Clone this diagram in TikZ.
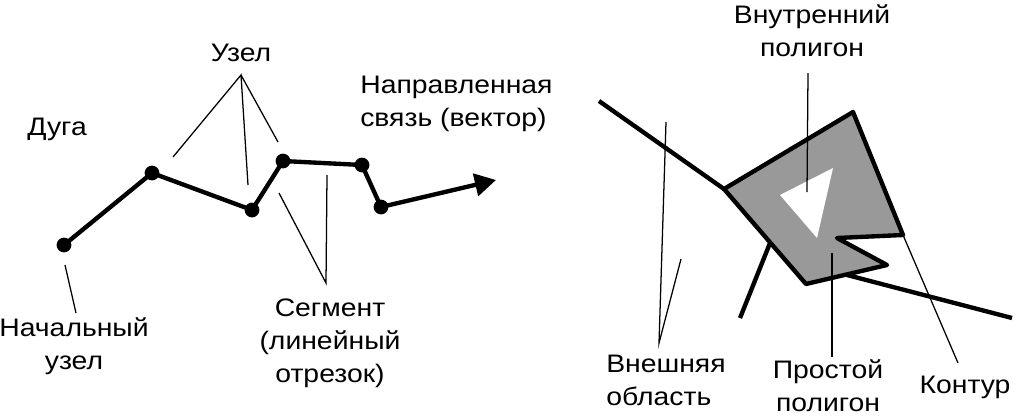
\documentclass[tikz,border=0pt]{standalone}
\usepackage{fontspec}
\setmainfont{Liberation Sans}[FakeStretch=1.12]
\usetikzlibrary{arrows.meta}

\begin{document}
\begin{tikzpicture}[x=0.025cm,y=-0.025cm,font=\fontsize{18}{23.4}\selectfont]
\tikzstyle{solid node}=[circle,fill=black,inner sep=0,minimum size=0.37cm]
\tikzstyle{text node}=[inner sep=0,anchor=base,align=center]
\tikzstyle{thick line}=[line width=3.1pt,line join=round]
\tikzstyle{thin line}=[line width=0.9pt]
\useasboundingbox (0,0) rectangle (1016,416);
\node[solid node](v1) at (64,245){};
\node[solid node](v2) at (152,173){};
\node[solid node](v3) at (252,210){};
\node[solid node](v4) at (283,161){};
\node[solid node](v5) at (362,165){};
\node[solid node](v6) at (381,207){};
\coordinate(tip) at (496,180);
\draw[thick line](v1.center)--(v2.center)--(v3.center)--(v4.center)--(v5.center)--(v6.center);
\draw[thick line,-{Triangle[length=15pt,width=16pt]}](v6.center)--(tip);
\node[text node,anchor=base west](arc) at (27,135){Дуга};
\node[text node](knot) at (241,61){Узел};
\coordinate(knot root) at (241,75);
\coordinate(knot a) at (173,157);
\coordinate(knot b) at (248,185);
\coordinate(knot c) at (278,142);
\draw[thin line](knot a)--(knot root)--(knot b);
\draw[thin line](knot root)--(knot c);
\node[text node,align=left,anchor=base west](vec) at (360,126){Направленная\\связь (вектор)};
\node[text node](start) at (74,369){Начальный\\узел};
\coordinate(start root) at (76,313);
\coordinate(start a) at (65,265);
\draw[thin line](start a)--(start root);
\node[text node](seg) at (330,382){Сегмент\\(линейный\\отрезок)};
\coordinate(seg root) at (326,283);
\coordinate(seg a) at (279,193);
\coordinate(seg b) at (327,175);
\draw[thin line](seg a)--(seg root)--(seg b);
\coordinate(p1) at (724,189);
\coordinate(p2) at (853,112);
\coordinate(p3) at (903,235);
\coordinate(p4) at (837,238);
\coordinate(p5) at (887,265);
\coordinate(p6) at (806,284);
\coordinate(t1) at (780,195);
\coordinate(t2) at (833,168);
\coordinate(t3) at (817,238);
\draw[thick line,fill=black!40](p1)--(p2)--(p3)--(p4)--(p5)--(p6)--cycle;
\fill[white](t1)--(t2)--(t3)--cycle;
\coordinate(road a) at (599,101);
\coordinate(road b) at (847,275);
\coordinate(road c) at (1012,318);
\coordinate(road d) at (770,243);
\coordinate(road e) at (740,318);
\draw[thick line](road a)--(p1);
\draw[thick line](road b)--(road c);
\draw[thick line](road d)--(road e);
\node[text node](inner) at (812,56){Внутренний\\полигон};
\coordinate(inner root) at (808,73);
\coordinate(inner a) at (807,192);
\draw[thin line](inner root)--(inner a);
\node[text node,align=left,anchor=base west](outer) at (606,405){Внешняя\\область};
\coordinate(outer root) at (659,343);
\coordinate(outer a) at (666,122);
\coordinate(outer b) at (681,259);
\draw[thin line](outer a)--(outer root)--(outer b);
\node[text node](simple) at (828,411){Простой\\полигон};
\coordinate(simple root) at (832,357);
\coordinate(simple a) at (832,253);
\draw[thin line](simple root)--(simple a);
\node[text node](contour) at (965,393){Контур};
\coordinate(contour root) at (958,363);
\draw[thin line](contour root)--(p3);
\end{tikzpicture}
\end{document}
